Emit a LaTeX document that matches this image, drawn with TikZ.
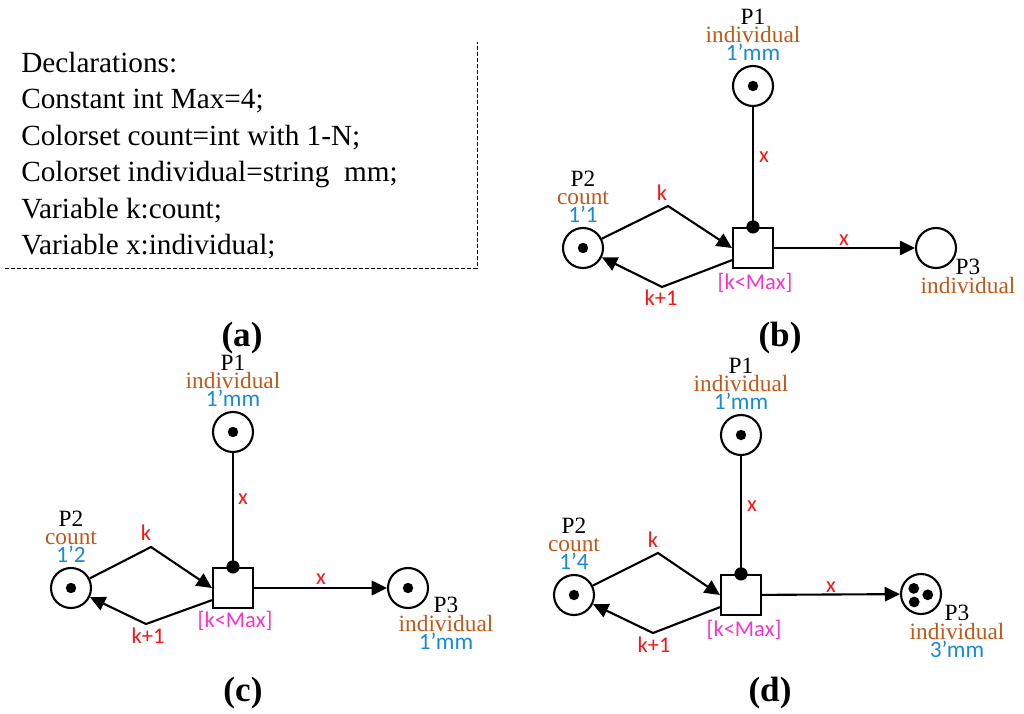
\documentclass[tikz,border=0pt]{standalone}
\usepackage{fontspec}
\setmainfont{Liberation Serif}
\newfontfamily\calfont{Carlito}
\newfontfamily\timesfont{Liberation Serif}
\usepackage{tikz}
\usetikzlibrary{positioning}
\usetikzlibrary{arrows.meta}
\definecolor{typecol}{RGB}{192,88,26}
\definecolor{markcol}{RGB}{24,138,214}
\definecolor{arccol}{RGB}{250,20,20}
\definecolor{guardcol}{RGB}{250,50,200}
\newcommand{\typ}[1]{{\timesfont\color{typecol}#1}}
\newcommand{\mrk}[1]{{\calfont\color{markcol}#1}}

\begin{document}
\begin{tikzpicture}[
x = 0.025cm, y = -0.025cm,
  place/.style = {circle, draw, line width = 1.5pt, minimum size = 1cm, inner sep = 0},
  trans/.style = {rectangle, draw, line width = 1.5pt, minimum size = 1cm, inner sep = 0},
  marked/.style = {path picture = {\fill (path picture bounding box.center) circle (0.13cm);}},
  arc/.style = {line width = 1.5pt, -{Triangle[length = 0.38cm, width = 0.36cm]}},
  plain/.style = {line width = 1.5pt},
  names/.style = {font = \timesfont\fontsize{16.6}{14}\selectfont, align = center, inner sep = 0},
  arclab/.style = {font = \calfont\fontsize{16}{14}\selectfont, text = arccol, inner sep = 0},
  guard/.style = {font = \calfont\fontsize{16}{14}\selectfont, text = guardcol, inner sep = 0},
  decl/.style = {font = \timesfont\fontsize{20.8}{26}\selectfont, anchor = base west, inner sep = 0},
  panellab/.style = {font = \timesfont\fontsize{25}{26}\selectfont\bfseries, inner sep = 0}
]
\useasboundingbox (0,0) rectangle (1024,714);

% (a) declarations
\foreach \txt [count=\i] in {Declarations:, Constant int Max=4;, Colorset count=int with 1-N;,
    Colorset individual=string~~mm;, Variable k:count;, Variable x:individual;}
  \node[decl] (decl\i) at (21,{36.1+36.4*\i}) {\txt};
\draw[line width = 0.7pt, dash pattern = on 0.1cm off 0.05cm] (5,268) -- (477,268) -- (477,42);
\node[panellab] (laba) at (242,338) {(a)};

% (b)
\node[place, marked] (p1b) at (753,86) {};
\node[trans] (tb) at (753,248) {};
\node[place, marked] (p2b) at (583,248) {};
\node[place] (p3b) at (936,248) {};
\coordinate (kb) at (668,206);
\coordinate (k1b) at (662,287);
\draw[plain] (p1b) -- (tb.north);
\fill (tb.north) circle (0.165cm);
\draw[arc] (p2b) -- (kb) -- (tb.west);
\draw[arc] (tb.-150) -- (k1b) -- (p2b);
\draw[arc] (tb) -- (p3b);
\node[names, above = 0.1cm of p1b] (p1bl) {P1\\[-1pt]\typ{individual}\\[-1pt]\mrk{1’mm}};
\node[names, above = 0.1cm of p2b] (p2bl) {P2\\[-1pt]\typ{count}\\[-1pt]\mrk{1’1}};
\node[names, anchor = north] (p3bl) at (968,259) {P3\\[-1pt]\typ{individual}};
\node[arclab] (x1b) at (764,157) {x};
\node[arclab] (kbl) at (662,193) {k};
\node[arclab] (k1bl) at (661,298) {k+1};
\node[guard] (gb) at (755,283) {[k<Max]};
\node[arclab] (x2b) at (844,240) {x};
\node[panellab] (labb) at (780,338) {(b)};

% (c)
\node[place, marked] (p1c) at (233,432) {};
\node[trans] (tc) at (233,588) {};
\node[place, marked] (p2c) at (71,588) {};
\node[place, marked] (p3c) at (408,588) {};
\coordinate (kc) at (151,547);
\coordinate (k1c) at (146,624);
\draw[plain] (p1c) -- (tc.north);
\fill (tc.north) circle (0.165cm);
\draw[arc] (p2c) -- (kc) -- (tc.west);
\draw[arc] (tc.-150) -- (k1c) -- (p2c);
\draw[arc] (tc) -- (p3c);
\node[names, above = 0.1cm of p1c] (p1cl) {P1\\[-1pt]\typ{individual}\\[-1pt]\mrk{1’mm}};
\node[names, above = 0.1cm of p2c] (p2cl) {P2\\[-1pt]\typ{count}\\[-1pt]\mrk{1’2}};
\node[names, anchor = north] (p3cl) at (446,597) {P3\\[-1pt]\typ{individual}\\[-1pt]\mrk{1’mm}};
\node[arclab] (x1c) at (243,499) {x};
\node[arclab] (kcl) at (146,533) {k};
\node[arclab] (k1cl) at (148,636) {k+1};
\node[guard] (gc) at (235,621) {[k<Max]};
\node[arclab] (x2c) at (321,579) {x};
\node[panellab] (labc) at (243,693) {(c)};

% (d)
\node[place, marked] (p1d) at (741,435) {};
\node[trans] (td) at (741,595) {};
\node[place, marked] (p2d) at (574,595) {};
\node[place, path picture = {
    \fill (path picture bounding box.center) ++(-0.18cm,0.14cm) circle (0.135cm);
    \fill (path picture bounding box.center) ++(0.17cm,-0.02cm) circle (0.135cm);
    \fill (path picture bounding box.center) ++(-0.17cm,-0.2cm) circle (0.135cm);}] (p3d) at (921,594) {};
\coordinate (kd) at (658,553);
\coordinate (k1d) at (653,633);
\draw[plain] (p1d) -- (td.north);
\fill (td.north) circle (0.165cm);
\draw[arc] (p2d) -- (kd) -- (td.west);
\draw[arc] (td.-150) -- (k1d) -- (p2d);
\draw[arc] (td) -- (p3d);
\node[names, above = 0.1cm of p1d] (p1dl) {P1\\[-1pt]\typ{individual}\\[-1pt]\mrk{1’mm}};
\node[names, above = 0.1cm of p2d] (p2dl) {P2\\[-1pt]\typ{count}\\[-1pt]\mrk{1’4}};
\node[names, anchor = north] (p3dl) at (957,605) {P3\\[-1pt]\typ{individual}\\[-1pt]\mrk{3’mm}};
\node[arclab] (x1d) at (752,506) {x};
\node[arclab] (kdl) at (653,540) {k};
\node[arclab] (k1dl) at (654,645) {k+1};
\node[guard] (gd) at (744,630) {[k<Max]};
\node[arclab] (x2d) at (831,587) {x};
\node[panellab] (labd) at (770,693) {(d)};
\end{tikzpicture}
\end{document}
